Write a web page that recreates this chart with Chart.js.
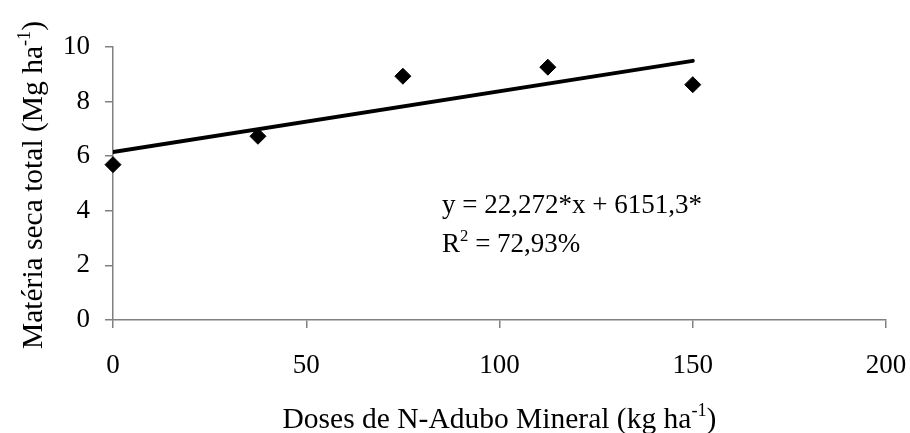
<!DOCTYPE html>
<html>
<head>
<meta charset="utf-8">
<script src="https://cdn.jsdelivr.net/npm/chart.js@4.4.1/dist/chart.umd.min.js"></script>
<style>
	html, body { margin: 0; padding: 0; background: #fff; }
	#wrap { width: 910px; height: 433px; }
</style>
</head>
<body>
<div id="wrap"><canvas id="dose-chart"></canvas></div>
<script>
const doses = [0, 37.5, 75, 112.5, 150];
const drymatter = [5.69, 6.73, 8.93, 9.26, 8.62];
const xTicks = [0, 50, 100, 150, 200];
const yTicks = [0, 2, 4, 6, 8, 10];

// regression y = 22,272*x + 6151,3 (kg/ha) -> Mg/ha
const slope = 22.272 / 1000,
	intercept = 6151.3 / 1000,
	fitRange = [0, 150];

const serif = '"Liberation Serif", "DejaVu Serif", serif',
	axisGray = '#808080';

// text with a superscript piece, e.g. ha^-1
const drawSup = (ctx, parts, x, y, size) => {
	let cx = x;
	parts.forEach(([txt, sup]) => {
		ctx.font = (sup ? size * 0.62 : size) + 'px ' + serif;
		ctx.fillText(txt, cx, sup ? y - size * 0.42 : y);
		cx += ctx.measureText(txt).width;
	});
};
const widthSup = (ctx, parts, size) => parts.reduce((w, [txt, sup]) => {
	ctx.font = (sup ? size * 0.62 : size) + 'px ' + serif;
	return w + ctx.measureText(txt).width;
}, 0);

const labelsPlugin = {
	id: 'labels',
	afterDraw(chart) {
		const ctx = chart.ctx,
			area = chart.chartArea,
			titleSize = 29.5,
			eqSize = 27;
		ctx.save();
		ctx.fillStyle = '#000';
		ctx.textBaseline = 'alphabetic';
		ctx.textAlign = 'left';

		// x title
		const xt = [['Doses de N-Adubo Mineral (kg ha', false], ['-1', true], [')', false]];
		const xw = widthSup(ctx, xt, titleSize);
		drawSup(ctx, xt, (area.left + area.right) / 2 - xw / 2, 428, titleSize);

		// y title, rotated
		const yt = [['Matéria seca total (Mg ha', false], ['-1', true], [')', false]];
		const yw = widthSup(ctx, yt, titleSize);
		ctx.save();
		ctx.translate(42, 185);
		ctx.rotate(-Math.PI / 2);
		drawSup(ctx, yt, -yw / 2, 0, titleSize);
		ctx.restore();

		// equation
		ctx.font = eqSize + 'px ' + serif;
		ctx.fillText('y = 22,272*x + 6151,3*', 442, 213);
		drawSup(ctx, [['R', false], ['2', true], [' = 72,93%', false]], 442, 252, eqSize);
		ctx.restore();
	}
};

new Chart(document.getElementById('dose-chart'), {
	type: 'scatter',
	data: {
		datasets: [{
			label: 'Ajuste',
			type: 'line',
			data: fitRange.map(x => ({ x, y: slope * x + intercept })),
			borderColor: '#000',
			borderWidth: 4,
			pointRadius: 0,
			borderCapStyle: 'round',
			order: 2
		}, {
			label: 'Matéria seca',
			data: doses.map((x, i) => ({ x, y: drymatter[i] })),
			pointStyle: 'rectRot',
			pointRadius: 8,
			backgroundColor: '#000',
			borderColor: '#000',
			clip: false,
			order: 1
		}]
	},
	options: {
		responsive: true,
		maintainAspectRatio: false,
		animation: false,
		layout: { padding: { left: 0, right: 24, top: 47, bottom: 0 } },
		plugins: { legend: { display: false }, tooltip: { enabled: false } },
		scales: {
			x: {
				type: 'linear',
				min: 0,
				max: 200,
				afterBuildTicks: s => { s.ticks = xTicks.map(value => ({ value })); },
				afterFit: s => {
					s.height = 113;
					s.paddingLeft = 0;
					s.paddingRight = 0;
				},
				border: { color: axisGray, width: 1.5 },
				grid: { drawOnChartArea: false, drawTicks: true, tickLength: 8, color: axisGray, lineWidth: 1.5 },
				ticks: { color: '#000', padding: 22, font: { family: serif, size: 27 } }
			},
			y: {
				min: 0,
				max: 10,
				afterBuildTicks: s => { s.ticks = yTicks.map(value => ({ value })); },
				afterFit: s => {
					s.width = 113;
					s.paddingTop = 0;
					s.paddingBottom = 0;
				},
				border: { color: axisGray, width: 1.5 },
				grid: { drawOnChartArea: false, drawTicks: true, tickLength: 8, color: axisGray, lineWidth: 1.5 },
				ticks: { color: '#000', padding: 15, font: { family: serif, size: 27 } }
			}
		}
	},
	plugins: [labelsPlugin]
});
</script>
</body>
</html>
